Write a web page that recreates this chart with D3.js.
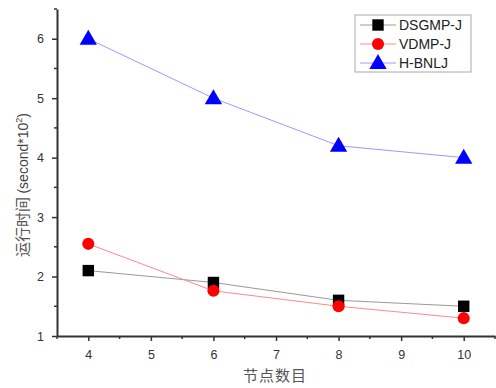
<!DOCTYPE html>
<html><head><meta charset="utf-8">
<script src="https://cdn.jsdelivr.net/npm/d3@7"></script>
<style>body{margin:0;background:#fff;}svg{display:block;}</style>
</head><body><svg id="c" width="496" height="388"></svg>
<script>
const nodes = [4, 6, 8, 10];
const dsgmp = [2.1, 1.9, 1.6, 1.5];
const vdmp = [2.55, 1.76, 1.5, 1.3];
const hbnlj = [6.0, 5.0, 4.2, 4.0];
const seriesNames = ["DSGMP-J", "VDMP-J", "H-BNLJ"];
const xTicks = [4, 5, 6, 7, 8, 9, 10];
const yTicks = [1, 2, 3, 4, 5, 6];

const svg = d3.select("#c");
const x = d3.scaleLinear().domain([3.5, 10.5]).range([57, 495]);
const y = d3.scaleLinear().domain([1, 6.5]).range([336, 9]);
const axisColor = "#333";
const font = "'Liberation Sans', Arial, sans-serif";

// axes
const xAxis = svg.append("g").attr("transform", "translate(0,336)")
  .call(d3.axisBottom(x).tickValues(xTicks).tickFormat(d3.format("d")).tickSize(5).tickSizeOuter(0));
const yAxis = svg.append("g").attr("transform", "translate(57,0)")
  .call(d3.axisLeft(y).tickValues(yTicks).tickFormat(d3.format("d")).tickSize(5).tickSizeOuter(0));
// minor ticks
const xMinor = d3.range(3.5, 10.51, 0.5).filter(v => !xTicks.includes(v));
const yMinor = d3.range(1.5, 6.51, 1);
svg.append("g").selectAll("line").data(xMinor).join("line")
  .attr("x1", d => x(d)).attr("x2", d => x(d)).attr("y1", 336).attr("y2", 339)
  .attr("stroke", axisColor).attr("stroke-width", 1.5);
svg.append("g").selectAll("line").data(yMinor).join("line")
  .attr("y1", d => y(d)).attr("y2", d => y(d)).attr("x1", 57).attr("x2", 54)
  .attr("stroke", axisColor).attr("stroke-width", 1.5);
[xAxis, yAxis].forEach(a => {
  a.select(".domain").attr("stroke", axisColor).attr("stroke-width", 2);
  a.selectAll(".tick line").attr("stroke", axisColor).attr("stroke-width", 1.5);
  a.selectAll("text").attr("fill", "#333").attr("font-family", font).attr("font-size", 12.5);
});
xAxis.selectAll("text").attr("dy", "1.2em");
yAxis.selectAll("text").attr("dx", "-0.4em");

// axis titles
svg.append("text").attr("x", 275).attr("y", 381).attr("text-anchor", "middle")
  .attr("font-family", "'Noto Sans CJK SC', sans-serif").attr("font-size", 15).attr("fill", "#555")
  .attr("letter-spacing", 1)
  .text("节点数目");
const yt = svg.append("text").attr("transform", "translate(28,185) rotate(-90)").attr("text-anchor", "middle")
  .attr("font-size", 14).attr("fill", "#444");
yt.append("tspan").attr("font-family", "'Noto Sans CJK SC', sans-serif").attr("fill", "#555").attr("font-size", 15).text("运行时间 ");
yt.append("tspan").attr("font-family", font).text("(second*10");
yt.append("tspan").attr("font-family", font).attr("font-size", 9).attr("dy", -6).text("2");
yt.append("tspan").attr("font-family", font).attr("dy", 6).text(")");

const series = [
  {name: seriesNames[0], vals: dsgmp, line: "#999", fill: "#000", shape: d3.symbolSquare, size: 130},
  {name: seriesNames[1], vals: vdmp, line: "#ff8a8a", fill: "#ff0000", shape: d3.symbolCircle, size: 115},
  {name: seriesNames[2], vals: hbnlj, line: "#9a9aff", fill: "#0000ff", shape: d3.symbolTriangle, size: 130}
];
const line = d3.line().x((d, i) => x(nodes[i])).y(d => y(d));
series.forEach(s => {
  svg.append("path").datum(s.vals).attr("d", line).attr("fill", "none")
    .attr("stroke", s.line).attr("stroke-width", 1);
});
series.forEach(s => {
  svg.append("g").selectAll("path").data(s.vals).join("path")
    .attr("transform", (d, i) => `translate(${x(nodes[i])},${y(d) + (s.shape === d3.symbolTriangle ? 1 : 0)})`)
    .attr("d", d3.symbol().type(s.shape).size(s.size)).attr("fill", s.fill);
});

// legend
const lg = svg.append("g");
lg.append("rect").attr("x", 355).attr("y", 15).attr("width", 116).attr("height", 57)
  .attr("fill", "#fff").attr("stroke", "#aaa").attr("stroke-width", 1);
series.forEach((s, i) => {
  const yy = 25 + i * 19;
  lg.append("line").attr("x1", 360).attr("x2", 396).attr("y1", yy).attr("y2", yy)
    .attr("stroke", s.line).attr("stroke-width", 1);
  lg.append("path").attr("transform", `translate(378,${yy + (s.shape === d3.symbolTriangle ? 1 : 0)})`)
    .attr("d", d3.symbol().type(s.shape).size(s.size)).attr("fill", s.fill);
  lg.append("text").attr("x", 399).attr("y", yy + 5).attr("font-family", font)
    .attr("font-size", 14).attr("fill", "#222").text(s.name);
});
</script></body></html>
